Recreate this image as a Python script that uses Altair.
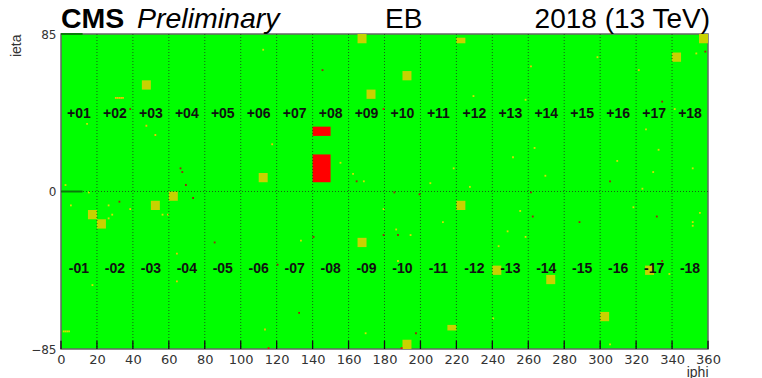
import altair as alt
import pandas as pd

FONT = "Liberation Sans"
TICKFONT = "DejaVu Sans"

# Trigger towers (yellow) : iphi range and ieta range
tower_phi0 = [165, 45, 170, 110, 60, 220, 190, 340, 355, 15, 20, 50, 165, 220, 240, 270, 325, 300, 215, 190]
tower_phi1 = [170, 50, 175, 115, 65, 225, 195, 345, 360, 20, 25, 55, 170, 225, 245, 275, 330, 305, 220, 195]
tower_eta0 = [80, 55, 50, 5, -5, 80, 60, 70, 80, -15, -20, -10, -30, -10, -45, -50, -45, -70, -75, -85]
tower_eta1 = [85, 60, 55, 10, 0, 83, 65, 75, 85, -10, -15, -5, -25, -5, -40, -45, -40, -65, -72, -80]

# Red (masked) regions
red_phi0 = [140, 140]
red_phi1 = [150, 150]
red_eta0 = [30, 5]
red_eta1 = [35, 20]

# Single crystals: d = dark red, r = red, y = yellow, o = orange
xtal_phi = [145, 38, 66, 67, 69, 73, 164, 179, 358, 334, 305, 185, 199, 261, 32, 85, 120, 140, 132, 115,
            179, 187, 262, 288, 331, 334, 197, 189,
            112, 14, 155, 162, 168, 2, 15, 298, 353, 229, 258, 341, 325, 263, 251, 309, 332, 269, 218, 329,
            351, 205, 227, 323, 5, 26, 28, 26, 56, 17, 133, 169, 179, 186, 194, 212, 248, 255, 258, 243,
            318, 355, 351, 351, 338, 187, 240, 305, 1, 2, 3, 4,
            47, 52, 117, 321, 261, 38, 59, 64, 64, 113, 30, 31, 32, 33, 34]
xtal_eta = [65, 44, 12, 10, 3, -4, 5, 44, 75, 48, 5, -1, -2, -1, -6, -28, -40, -25, -66, -85,
            -24, -24, -14, -17, -14, -38, -77, -85,
            76, 36, 15, 9, 5, 3, -1, 72, 74, 51, 49, 44, 33, 23, 18, 16, 22, 8, 12, 10,
            12, 4, 2, 1, -8, -8, -13, -15, -13, -51, -27, -77, -10, -21, -24, -17, -22, -11, -25, -30,
            -9, -12, -17, -19, -45, -38, -69, -83, -76, -76, -76, -76,
            35, 30, 25, 65, 67, -10, -13, -34, -49, -75, 50, 50, 50, 50, 50]
xtal_kind = (["d"] * 7 + ["r"] + ["d"] * 11 + ["r"] + ["d"] * 7 + ["r"]
             + ["y"] * 52
             + ["o"] * 15)

# Supermodule labels
sm_center = [10 + 20 * i for i in range(18)]
sm_plus = ["+01", "+02", "+03", "+04", "+05", "+06", "+07", "+08", "+09",
           "+10", "+11", "+12", "+13", "+14", "+15", "+16", "+17", "+18"]
sm_minus = ["-01", "-02", "-03", "-04", "-05", "-06", "-07", "-08", "-09",
            "-10", "-11", "-12", "-13", "-14", "-15", "-16", "-17", "-18"]
sm_eta_plus = 42
sm_eta_minus = -42

x_ticks = list(range(0, 361, 20))
sm_bounds = list(range(20, 341, 20))
y_ticks = [-85, 0, 85]

towers = pd.DataFrame({"p0": tower_phi0, "p1": tower_phi1, "e0": tower_eta0, "e1": tower_eta1})
reds = pd.DataFrame({"p0": red_phi0, "p1": red_phi1, "e0": red_eta0, "e1": red_eta1})
xtals = pd.DataFrame({"phi": xtal_phi, "eta": xtal_eta, "kind": xtal_kind})
labels = pd.DataFrame({
    "phi": sm_center + sm_center,
    "eta": [sm_eta_plus] * 18 + [sm_eta_minus] * 18,
    "txt": sm_plus + sm_minus,
})

xscale = alt.Scale(domain=[0, 360], nice=False, zero=False)
yscale = alt.Scale(domain=[-85, 85], nice=False, zero=False)

xaxis = alt.Axis(values=x_ticks, title="iphi")
yaxis = alt.Axis(values=y_ticks, title="ieta",
                 labelExpr="datum.value < 0 ? '\u2212' + abs(datum.value) : datum.label")


def X(field):
    return alt.X(field, scale=xscale, axis=xaxis)


def Y(field):
    return alt.Y(field, scale=yscale, axis=yaxis)


tower_layer = alt.Chart(towers).mark_rect(color="#c8d200").encode(
    x=X("p0:Q"), x2="p1:Q", y=Y("e0:Q"), y2="e1:Q",
)

red_layer = alt.Chart(reds).mark_rect(color="#ff0000").encode(
    x=X("p0:Q"), x2="p1:Q", y=Y("e0:Q"), y2="e1:Q",
)

xtal_layer = alt.Chart(xtals).transform_calculate(
    phi1="datum.phi + 1", eta1="datum.eta + 1"
).mark_rect().encode(
    x=X("phi:Q"), x2="phi1:Q",
    y=Y("eta:Q"), y2="eta1:Q",
    color=alt.Color("kind:N", legend=None,
                    scale=alt.Scale(domain=["d", "r", "y", "o"],
                                    range=["#9a2a12", "#e81010", "#d4e000", "#f0c000"])),
)

vgrid = alt.Chart(pd.DataFrame({"b": sm_bounds})).mark_rule(
    color="#1a3a1a", strokeDash=[1, 2], strokeWidth=1, opacity=0.8
).encode(x=X("b:Q"))

hgrid = alt.Chart(pd.DataFrame({"b": [0]})).mark_rule(
    color="#1a3a1a", strokeDash=[1, 2], strokeWidth=1, opacity=0.8
).encode(y=Y("b:Q"))

xticks_layer = alt.Chart(pd.DataFrame({"t": x_ticks, "lo": [-85] * len(x_ticks),
                                       "hi": [-80.5] * len(x_ticks)})).mark_rule(
    color="#111", strokeWidth=1.3
).encode(x=X("t:Q"), y=Y("lo:Q"), y2="hi:Q")

yticks_layer = alt.Chart(pd.DataFrame({"t": [0, 85], "a": [0, 0], "b": [12, 12]})).mark_rule(
    color="#0b7a0b", strokeWidth=2
).encode(y=Y("t:Q"), x=X("a:Q"), x2="b:Q")

label_layer = alt.Chart(labels).mark_text(
    font=FONT, fontSize=14, fontWeight="bold", color="#111", baseline="middle", align="center"
).encode(
    x=X("phi:Q"), y=Y("eta:Q"), text="txt:N"
)


def header(txt, xpos, size, weight="normal", style="normal", align="left"):
    return alt.Chart(pd.DataFrame({"t": [txt]})).mark_text(
        font=FONT, fontSize=size, fontWeight=weight, fontStyle=style, color="#000",
        align=align, baseline="alphabetic"
    ).encode(x=alt.value(xpos), y=alt.value(-6), text="t:N")


headers = (header("CMS", 0, 28.5, weight="bold")
           + header("Preliminary", 76, 28.5, style="italic")
           + header("EB", 324, 28)
           + header("2018 (13 TeV)", 649, 28, align="right"))

chart = alt.layer(
    tower_layer, red_layer, xtal_layer, vgrid, hgrid, xticks_layer, yticks_layer,
    label_layer, headers
).properties(
    width=647, height=315,
    autosize=alt.AutoSizeParams(type="none"),
    padding={"left": 53, "top": 26, "right": 40, "bottom": 32},
    background="white",
).configure_view(
    fill="#00ff00", stroke="#666", strokeWidth=1.5
).configure_axis(
    labelFont=TICKFONT, labelColor="#333", tickSize=0, domain=False, grid=False,
    labelOverlap=False, labelFlush=False,
    titleFont=FONT, titleFontSize=14, titleFontWeight="normal", titleColor="#333",
).configure_axisX(
    labelFontSize=13, labelPadding=4,
    titleX=647, titleY=27, titleAlign="right", titleBaseline="alphabetic",
).configure_axisY(
    labelFontSize=12, labelPadding=5,
    titleX=-41, titleY=0, titleAngle=270, titleAlign="right", titleBaseline="alphabetic",
)

chart.save("out.html", embed_options={"renderer": "svg", "actions": False})
